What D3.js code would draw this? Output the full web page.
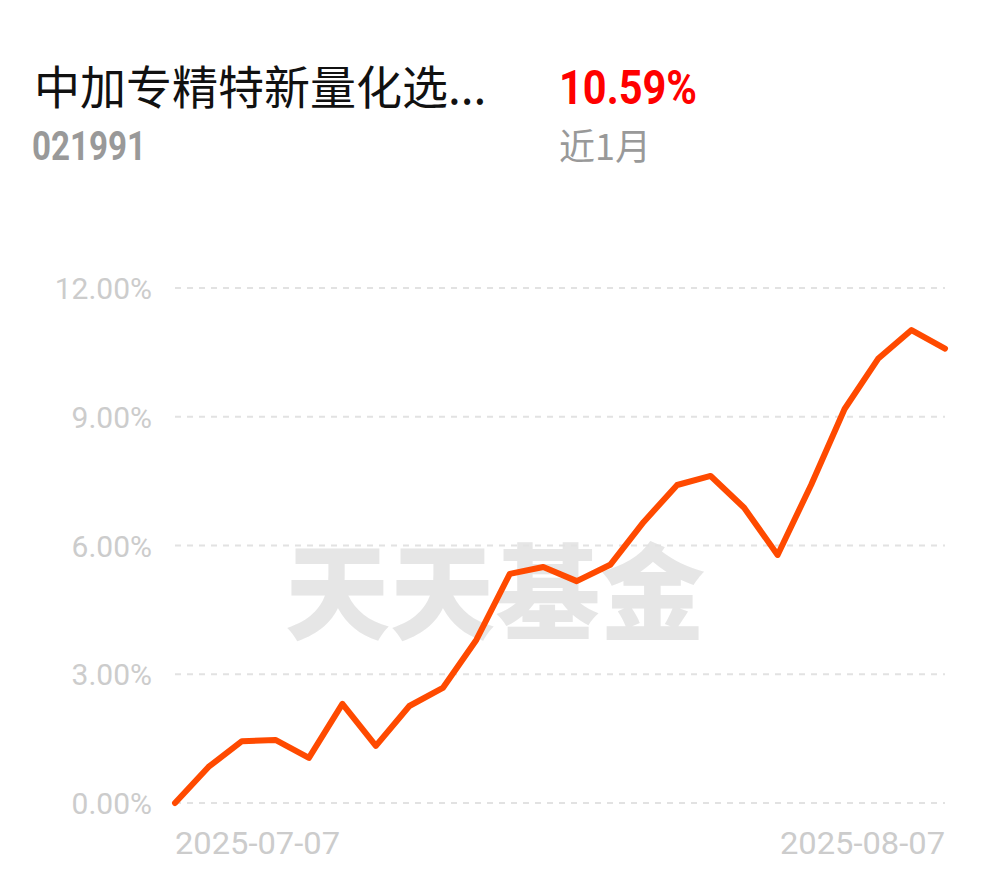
<!DOCTYPE html>
<html><head><meta charset="utf-8">
<script src="https://cdn.jsdelivr.net/npm/d3@7"></script>
<style>html,body{margin:0;padding:0;background:#fff;}</style>
</head><body>
<script>
const values = [0, 0.84, 1.44, 1.47, 1.05, 2.31, 1.33, 2.26, 2.68, 3.80, 5.34, 5.50, 5.17, 5.55, 6.55, 7.41, 7.62, 6.88, 5.78, 7.41, 9.18, 10.35, 11.02, 10.59];
const yTicks = [0, 3, 6, 9, 12];
const xLabels = ["2025-07-07", "2025-08-07"];
const fundName = "中加专精特新量化选...";
const fundCode = "021991";
const retText = "10.59%";
const periodText = "近1月";

const W = 990, H = 878;
const svg = d3.select("body").append("svg").attr("width", W).attr("height", H);
const x = d3.scaleLinear().domain([0, values.length - 1]).range([175, 945]);
const y = d3.scaleLinear().domain([0, 12]).range([803, 288]);

// header
svg.append("text").attr("x", 34).attr("y", 104).attr("font-family", "Noto Sans CJK SC").attr("font-size", 46).attr("fill", "#111").text(fundName);
svg.append("text").attr("x", 559).attr("y", 104).attr("font-family", "Roboto").attr("font-weight", 700).attr("font-size", 48).attr("fill", "#ff0000").attr("textLength", 138).attr("lengthAdjust", "spacingAndGlyphs").text(retText);
svg.append("text").attr("x", 32).attr("y", 160).attr("font-family", "Roboto").attr("font-weight", 700).attr("font-size", 40).attr("fill", "#999").attr("textLength", 114).attr("lengthAdjust", "spacingAndGlyphs").text(fundCode);
svg.append("text").attr("x", 559).attr("y", 160).attr("font-family", "Noto Sans CJK SC").attr("font-size", 36).attr("fill", "#999").text(periodText);

// watermark
svg.append("text").attr("x", 495).attr("y", 632).attr("text-anchor", "middle").attr("font-family", "Noto Sans CJK SC").attr("font-weight", 900).attr("font-size", 104).attr("fill", "#e6e6e6").attr("textLength", 420).attr("lengthAdjust", "spacingAndGlyphs").text("天天基金");

// grid
const g = svg.append("g");
g.selectAll("line.grid").data(yTicks).join("line")
  .attr("x1", 175).attr("x2", 945).attr("y1", d => y(d)).attr("y2", d => y(d))
  .attr("stroke", "#e2e2e2").attr("stroke-width", 2).attr("stroke-dasharray", "6,6");

// y labels
const yAxis = d3.axisLeft(y).tickValues(yTicks).tickSize(0).tickPadding(0).tickFormat(d => d.toFixed(2) + "%");
const ya = svg.append("g").attr("transform", "translate(152,0)").call(yAxis);
ya.select(".domain").remove();
ya.selectAll("text").attr("font-family", "Roboto").attr("font-size", 30).attr("fill", "#cccccc").attr("dy", "0.35em");

// x labels
svg.append("text").attr("x", x(0)).attr("y", 854).attr("font-family", "Roboto").attr("font-size", 31).attr("fill", "#cccccc").attr("textLength", 165).attr("lengthAdjust", "spacingAndGlyphs").text(xLabels[0]);
svg.append("text").attr("x", x(values.length - 1) - 165).attr("y", 854).attr("font-family", "Roboto").attr("font-size", 31).attr("fill", "#cccccc").attr("textLength", 165).attr("lengthAdjust", "spacingAndGlyphs").text(xLabels[1]);

// line
const line = d3.line().x((d, i) => x(i)).y(d => y(d));
svg.append("path").datum(values).attr("d", line).attr("fill", "none").attr("stroke", "#ff4a00").attr("stroke-width", 6).attr("stroke-linejoin", "round").attr("stroke-linecap", "round");
</script>
</body></html>
